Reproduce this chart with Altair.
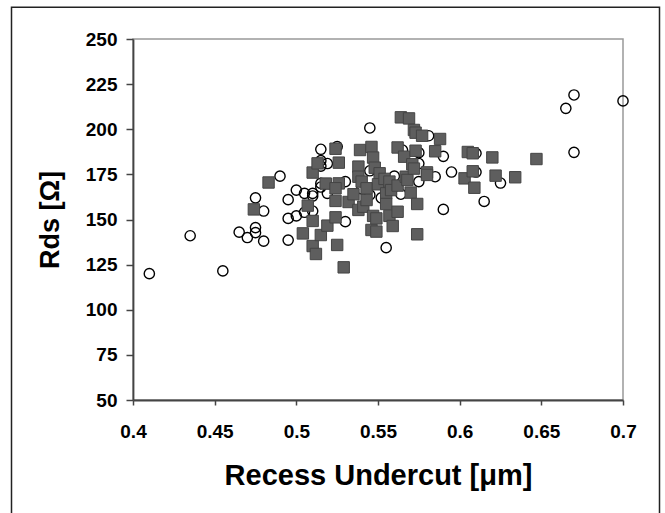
import altair as alt
import pandas as pd

# Open circles (series 1)
circle_x = [0.410, 0.435, 0.455, 0.465, 0.470, 0.475, 0.475, 0.475, 0.480, 0.480,
            0.490, 0.495, 0.495, 0.495, 0.500, 0.500, 0.505, 0.505, 0.510, 0.510,
            0.510, 0.515, 0.515, 0.515, 0.515, 0.515, 0.519, 0.519, 0.525, 0.530,
            0.530, 0.545, 0.545, 0.545, 0.555, 0.552, 0.540, 0.560, 0.564, 0.565,
            0.575, 0.575, 0.575, 0.581, 0.585, 0.590, 0.590, 0.595, 0.610, 0.610,
            0.615, 0.625, 0.665, 0.670, 0.670, 0.700]
circle_y = [120.0, 141.0, 121.5, 143.0, 140.0, 162.0, 145.5, 142.7, 154.7, 138.0,
            174.0, 161.0, 150.6, 138.6, 166.3, 152.0, 164.5, 154.0, 164.5, 163.0,
            154.7, 188.9, 182.6, 179.6, 170.0, 168.0, 181.0, 164.5, 190.4, 171.0,
            148.8, 200.7, 177.0, 163.6, 134.4, 162.0, 167.0, 174.0, 164.0, 188.5,
            187.0, 181.0, 171.0, 196.4, 173.7, 185.0, 155.6, 176.3, 186.7, 176.3,
            160.0, 170.2, 211.6, 219.0, 187.2, 215.7]

# Filled grey squares (series 2)
square_x = [0.483, 0.474, 0.504, 0.507, 0.510, 0.510, 0.510, 0.512, 0.513, 0.515,
            0.519, 0.518, 0.524, 0.526, 0.526, 0.524, 0.524, 0.524, 0.525, 0.529,
            0.532, 0.535, 0.538, 0.539, 0.538, 0.538, 0.540, 0.541, 0.543, 0.543,
            0.546, 0.546, 0.547, 0.547, 0.548, 0.549, 0.549, 0.551, 0.550, 0.554,
            0.555, 0.555, 0.557, 0.557, 0.558, 0.559, 0.562, 0.562, 0.562, 0.564,
            0.566, 0.567, 0.568, 0.569, 0.570, 0.571, 0.572, 0.573, 0.572, 0.573,
            0.574, 0.574, 0.577, 0.580, 0.580, 0.585, 0.588, 0.603, 0.605, 0.608,
            0.608, 0.609, 0.620, 0.622, 0.634, 0.647]
square_y = [170.5, 155.6, 142.3, 157.7, 176.0, 149.2, 135.3, 130.9, 181.1, 141.4,
            146.6, 169.9, 189.2, 181.5, 170.0, 167.3, 160.3, 151.2, 135.9, 123.5,
            159.7, 164.0, 155.3, 188.5, 179.3, 173.7, 171.0, 157.1, 160.8, 167.3,
            190.2, 144.2, 184.3, 152.0, 178.7, 143.3, 150.6, 175.6, 169.5, 172.5,
            164.5, 158.6, 152.0, 171.0, 166.3, 146.4, 154.3, 168.8, 189.9, 206.6,
            184.8, 173.7, 171.9, 206.0, 164.9, 180.6, 199.6, 188.1, 178.2, 198.1,
            158.6, 141.8, 196.4, 176.1, 174.7, 187.8, 194.6, 172.8, 187.4, 186.7,
            176.7, 167.6, 184.4, 174.3, 173.4, 183.5]

x_ticks = [0.4, 0.45, 0.5, 0.55, 0.6, 0.65, 0.7]
y_ticks = [50, 75, 100, 125, 150, 175, 200, 225, 250]

df_c = pd.DataFrame({"x": circle_x, "y": circle_y})
df_s = pd.DataFrame({"x": square_x, "y": square_y})

FONT = "Liberation Sans"
W, H = 490, 361

xs = alt.Scale(domain=[0.4, 0.7], nice=False, zero=False)
ys = alt.Scale(domain=[50, 250], nice=False, zero=False)

x_axis = alt.Axis(
    title="Recess Undercut [μm]", values=x_ticks, format="~g",
    tickSize=5, labelPadding=17, labelFlush=False, titleX=W / 2, titleY=84,
    titleBaseline="alphabetic", titleFontSize=29,
)
y_axis = alt.Axis(
    title="Rds [Ω]", values=y_ticks, tickSize=7, labelPadding=9, labelFlush=False,
    titleX=-75, titleY=H / 2, titleBaseline="alphabetic", titleAngle=270,
    titleFontSize=27,
)

circles = alt.Chart(df_c).mark_point(
    shape="circle", filled=False, stroke="black", strokeWidth=1.4, size=105, opacity=1
).encode(
    x=alt.X("x:Q", scale=xs, axis=x_axis),
    y=alt.Y("y:Q", scale=ys, axis=y_axis),
)

squares = alt.Chart(df_s).mark_point(
    shape="square", filled=True, fill="#5e5e5e", stroke="#444444", strokeWidth=1,
    size=130, opacity=1
).encode(
    x=alt.X("x:Q", scale=xs),
    y=alt.Y("y:Q", scale=ys),
)

frame = alt.Chart(pd.DataFrame({"a": [0]})).mark_rect(
    fillOpacity=0, stroke="#222222", strokeWidth=1.5, clip=False
).encode(
    x=alt.value(-121.5), x2=alt.value(526.5),
    y=alt.value(-31.8), y2=alt.value(520),
)

chart = alt.layer(circles, squares, frame).properties(
    width=W, height=H,
    padding={"left": 133, "top": 39, "right": 42, "bottom": 113},
    autosize=alt.AutoSizeParams(type="none"),
    background="white",
).configure_view(
    stroke="#999999", strokeWidth=1.5
).configure_axis(
    grid=False, domainColor="#444444", domainWidth=1.8,
    tickColor="#444444", tickWidth=1.5,
    labelFont=FONT, labelFontSize=19, labelFontWeight="bold", labelColor="black",
    titleFont=FONT, titleFontWeight="bold", titleColor="black",
)

chart.save("out.html", embed_options={"renderer": "svg", "actions": False})
